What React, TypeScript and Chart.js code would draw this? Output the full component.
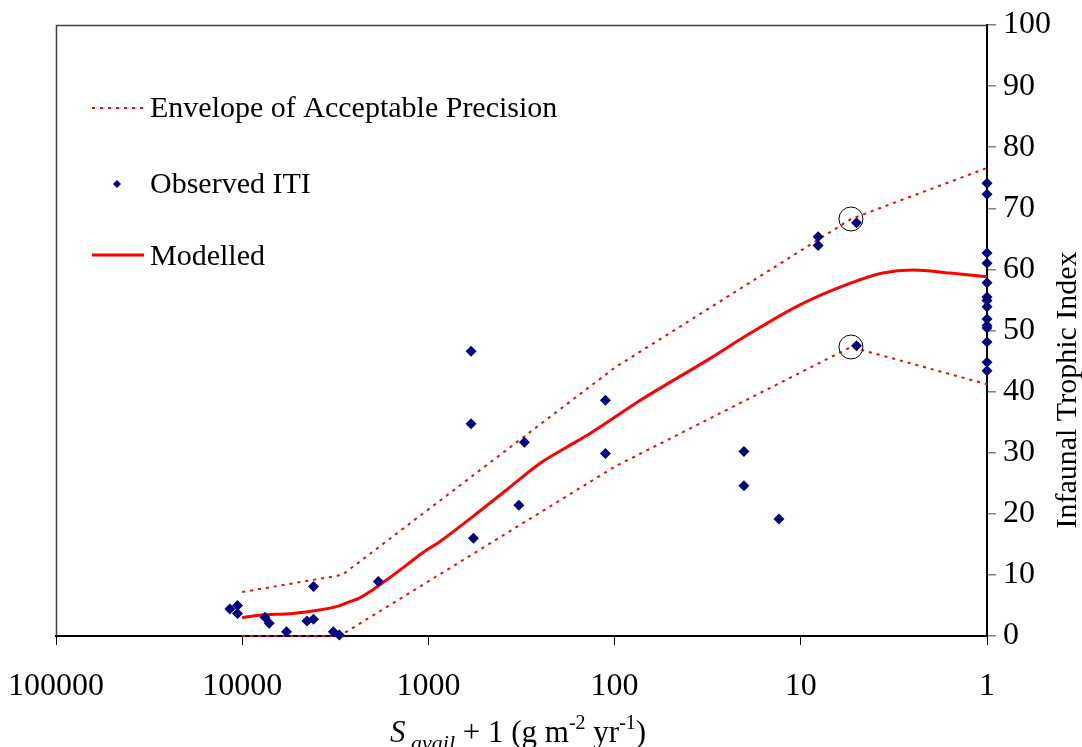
import { useEffect, useRef } from 'react';
import { Chart, registerables } from 'chart.js';

Chart.register(...registerables);

// ---- Data ----
const xTickValues = [100000, 10000, 1000, 100, 10, 1];
const yTickValues = [0, 10, 20, 30, 40, 50, 60, 70, 80, 90, 100];

const observedX = [
  11650, 10600, 10600, 7550, 7160, 5780, 4490, 4140, 4140, 3240, 3010, 1858,
  590, 590, 305, 327, 573, 112, 112, 20.2, 20.2, 13.1, 8.07, 8.07, 5.02, 5.02,
  1, 1, 1, 1, 1, 1, 1, 1, 1, 1, 1, 1, 1, 1,
];
const observedY = [
  4.4, 5.0, 3.7, 3.05, 2.1, 0.7, 2.45, 2.75, 8.1, 0.7, 0.15, 8.9,
  46.6, 34.75, 31.7, 21.4, 16.0, 38.6, 29.85, 30.2, 24.6, 19.15, 65.35, 63.9, 67.65, 47.5,
  74.1, 72.3, 62.7, 61.0, 57.8, 55.5, 54.9, 53.9, 51.9, 50.8, 50.4, 48.1, 44.8, 43.4,
];

const modelX = [
  10000, 8100, 5380, 3855, 3125, 2660, 2350, 2000, 1622, 1312, 1077, 873, 580,
  381, 253, 181, 136, 73.4, 30.8, 18.8, 10.1, 5.45, 3.63, 2.5, 1.58, 1,
];
const modelY = [
  3.0, 3.4, 3.7, 4.25, 4.8, 5.6, 6.2, 7.5, 9.5, 11.6, 13.6, 15.4, 19.5,
  23.9, 28.2, 30.9, 33.1, 38.5, 45.4, 49.5, 54.2, 57.7, 59.4, 59.9, 59.4, 58.8,
];

const upperX = [10000, 2900, 100, 5.38, 1];
const upperY = [7.2, 10.0, 43.9, 68.25, 76.6];
const lowerX = [10000, 3000, 100, 5.38, 1];
const lowerY = [0, 0, 27.7, 47.3, 41.2];

const circleX = [5.38, 5.38];
const circleY = [68.25, 47.3];

const legendLabels = ['Envelope of Acceptable Precision', 'Observed ITI', 'Modelled'];
const yTitle = 'Infaunal Trophic Index';

const toPoints = (xs: number[], ys: number[]) => xs.map((x, i) => ({ x, y: ys[i] }));

const FONT = "'Liberation Serif', 'Times New Roman', serif";
const RED = '#FF0000';
const NAVY = '#000080';

const decorPlugin = {
  id: 'decor',
  beforeDatasetsDraw(chart: any) {
    const { ctx, chartArea } = chart;
    ctx.save();
    ctx.strokeStyle = '#404040';
    ctx.lineWidth = 1.5;
    ctx.beginPath();
    ctx.moveTo(chartArea.left + 0.5, chartArea.bottom);
    ctx.lineTo(chartArea.left + 0.5, chartArea.top + 0.5);
    ctx.lineTo(chartArea.right, chartArea.top + 0.5);
    ctx.stroke();
    ctx.restore();
  },
  afterDraw(chart: any) {
    const { ctx } = chart;
    ctx.save();
    // Legend
    ctx.font = `30px ${FONT}`;
    ctx.fillStyle = '#000';
    ctx.textBaseline = 'middle';
    ctx.textAlign = 'left';
    ctx.strokeStyle = RED;
    ctx.lineWidth = 2;
    ctx.setLineDash([3, 5]);
    ctx.beginPath();
    ctx.moveTo(92, 108);
    ctx.lineTo(144, 108);
    ctx.stroke();
    ctx.setLineDash([]);
    ctx.fillText(legendLabels[0], 150, 109);
    ctx.fillStyle = NAVY;
    ctx.beginPath();
    ctx.moveTo(117, 180);
    ctx.lineTo(121, 184);
    ctx.lineTo(117, 188);
    ctx.lineTo(113, 184);
    ctx.closePath();
    ctx.fill();
    ctx.fillStyle = '#000';
    ctx.fillText(legendLabels[1], 150, 185);
    ctx.strokeStyle = RED;
    ctx.lineWidth = 3;
    ctx.beginPath();
    ctx.moveTo(92, 255);
    ctx.lineTo(144, 255);
    ctx.stroke();
    ctx.fillText(legendLabels[2], 150, 257);

    // Y title
    ctx.save();
    ctx.translate(1068, 390);
    ctx.rotate(-Math.PI / 2);
    ctx.textAlign = 'center';
    ctx.textBaseline = 'middle';
    ctx.font = `30px ${FONT}`;
    ctx.fillText(yTitle, 0, 0);
    ctx.restore();

    // X title with sub/superscripts
    const base = 742;
    let x = 390;
    ctx.textBaseline = 'alphabetic';
    const put = (t: string, font: string, dy: number) => {
      ctx.font = font;
      ctx.fillText(t, x, base + dy);
      x += ctx.measureText(t).width;
    };
    put('S', `italic 31px ${FONT}`, 0);
    put(' avail', `italic 22px ${FONT}`, 8);
    put(' + 1 (g m', `31px ${FONT}`, 0);
    put('-2', `20px ${FONT}`, -13);
    put(' yr', `31px ${FONT}`, 0);
    put('-1', `20px ${FONT}`, -13);
    put(')', `31px ${FONT}`, 0);
    ctx.restore();
  },
};

export default function App() {
  const ref = useRef<HTMLCanvasElement | null>(null);
  useEffect(() => {
    if (!ref.current) return;
    const chart = new Chart(ref.current, {
      type: 'scatter',
      data: {
        datasets: [
          {
            label: 'Observed ITI',
            data: toPoints(observedX, observedY),
            pointStyle: 'rectRot',
            pointRadius: 5.5,
            pointBackgroundColor: NAVY,
            pointBorderColor: NAVY,
            pointBorderWidth: 0,
            showLine: false,
            clip: false as any,
            order: 1,
          },
          {
            label: 'Modelled',
            data: toPoints(modelX, modelY),
            showLine: true,
            borderColor: RED,
            borderWidth: 3,
            pointRadius: 0,
            cubicInterpolationMode: 'monotone',
            order: 2,
          },
          {
            label: 'Envelope upper',
            data: toPoints(upperX, upperY),
            showLine: true,
            borderColor: RED,
            borderWidth: 2,
            borderDash: [3, 5],
            pointRadius: 0,
            clip: false as any,
            order: 3,
          },
          {
            label: 'Envelope lower',
            data: toPoints(lowerX, lowerY),
            showLine: true,
            borderColor: RED,
            borderWidth: 2,
            borderDash: [3, 5],
            pointRadius: 0,
            clip: false as any,
            order: 3,
          },
          {
            label: 'Circles',
            data: toPoints(circleX, circleY),
            showLine: false,
            pointStyle: 'circle',
            pointRadius: 12,
            pointBackgroundColor: 'rgba(0,0,0,0)',
            pointBorderColor: '#000',
            pointBorderWidth: 1,
            clip: false as any,
            order: 0,
          },
        ],
      },
      options: {
        responsive: false,
        animation: false,
        layout: { padding: { left: 56, top: 25, right: 0, bottom: 0 } },
        plugins: {
          legend: { display: false },
          tooltip: { enabled: false },
        },
        scales: {
          x: {
            type: 'logarithmic',
            position: 'bottom',
            min: 1,
            max: 100000,
            reverse: true,
            afterBuildTicks: (scale: any) => {
              scale.ticks = xTickValues.map((v) => ({ value: v }));
            },
            afterFit: (scale: any) => {
              scale.height = 111;
              scale.paddingLeft = 0;
              scale.paddingRight = 0;
            },
            ticks: {
              autoSkip: false,
              maxRotation: 0,
              color: '#000',
              font: { family: FONT, size: 32 },
              padding: 22,
              callback: (v: any) => String(v),
            },
            grid: {
              drawOnChartArea: false,
              drawTicks: true,
              tickLength: 9,
              color: '#000',
              lineWidth: 1,
            },
            border: { display: true, color: '#000', width: 2 },
          },
          y: {
            type: 'linear',
            position: 'right',
            min: 0,
            max: 100,
            afterBuildTicks: (scale: any) => {
              scale.ticks = yTickValues.map((v) => ({ value: v }));
            },
            afterFit: (scale: any) => {
              scale.width = 95;
              scale.paddingTop = 0;
              scale.paddingBottom = 0;
            },
            ticks: {
              color: '#000',
              font: { family: FONT, size: 32 },
              padding: 7,
            },
            grid: {
              drawOnChartArea: false,
              drawTicks: true,
              tickLength: 9,
              color: '#808080',
              lineWidth: 1.5,
            },
            border: { display: true, color: '#000', width: 2 },
          },
        },
      },
      plugins: [decorPlugin],
    } as any);
    return () => chart.destroy();
  }, []);
  return (
    <div style={{ position: 'fixed', left: 0, top: 0, width: 1082, height: 747, background: '#fff' }}>
      <canvas ref={ref} width={1082} height={747} style={{ display: 'block' }} />
    </div>
  );
}
